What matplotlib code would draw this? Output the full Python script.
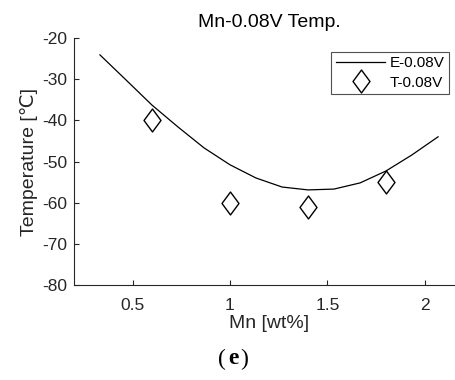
import matplotlib
matplotlib.use("Agg")
import matplotlib.pyplot as plt
from matplotlib.path import Path

# Data
mn_curve = [0.333, 0.467, 0.600, 0.733, 0.867, 1.000, 1.133, 1.267, 1.400, 1.533, 1.667, 1.800, 1.933, 2.067]
temp_curve = [-24.1, -30.2, -36.3, -41.6, -46.7, -50.8, -54.0, -56.2, -56.9, -56.7, -55.2, -52.3, -48.4, -44.0]
mn_test = [0.6, 1.0, 1.4, 1.8]
temp_test = [-40, -60, -61, -55]
xticks = [0.5, 1.0, 1.5, 2.0]
xticklabels = ["0.5", "1", "1.5", "2"]
yticks = [-80, -70, -60, -50, -40, -30, -20]

plt.rcParams['font.family'] = ['Liberation Sans', 'DejaVu Sans']
plt.rcParams['axes.unicode_minus'] = False
W, H = 456, 380
fig = plt.figure(figsize=(W / 100, H / 100), dpi=100)
ax = fig.add_axes([74 / W, 1 - 285 / H, (464 - 74) / W, (285 - 38) / H])

dia = Path([(0, 1), (0.74, 0), (0, -1), (-0.74, 0), (0, 1)],
           [Path.MOVETO, Path.LINETO, Path.LINETO, Path.LINETO, Path.CLOSEPOLY])

ax.plot(mn_curve, temp_curve, color='black', lw=0.9, label='E-0.08V')
ax.plot(mn_test, temp_test, linestyle='none', marker=dia, markersize=16.5,
        markerfacecolor='white', markeredgecolor='black', markeredgewidth=1.0,
        label='T-0.08V')

ax.set_xlim(0.2, 2.2)
ax.set_ylim(-80, -20)
ax.set_xticks(xticks)
ax.set_xticklabels(xticklabels)
ax.set_yticks(yticks)
gray = '#262626'
for s in ['top', 'right']:
    ax.spines[s].set_visible(False)
for s in ['left', 'bottom']:
    ax.spines[s].set_color(gray)
    ax.spines[s].set_linewidth(0.8)
ax.tick_params(direction='in', length=3.5, width=0.8, colors=gray, labelsize=12.5,
               labelcolor=gray)
ax.tick_params(axis='x', pad=9)
ax.tick_params(axis='y', pad=5)

ax.set_xlabel('Mn [wt%]', fontsize=14, color=gray, labelpad=2)
ax.set_ylabel('Temperature [℃]', fontsize=14, color=gray, labelpad=3)
ax.set_title('Mn-0.08V Temp.', fontsize=14, color='black', pad=8)

leg = ax.legend(loc='upper right', bbox_to_anchor=((449 - 74) / (464 - 74), 1 - (51.7 - 38) / 247),
                fontsize=11, frameon=True, fancybox=False, borderaxespad=0,
                handlelength=3.2, handletextpad=0.3, borderpad=0.3, labelspacing=0.35)
leg.get_frame().set_edgecolor(gray)
leg.get_frame().set_linewidth(0.8)

fig.text(222 / W, 1 - 359 / H, '(', family='Liberation Serif', fontsize=17, ha='center', va='center')
fig.text(233 / W, 1 - 359 / H, 'e', family='Liberation Serif', fontsize=17, weight='bold', ha='center', va='center')
fig.text(244.5 / W, 1 - 359 / H, ')', family='Liberation Serif', fontsize=17, ha='center', va='center')

fig.savefig('out.png', dpi=100)
